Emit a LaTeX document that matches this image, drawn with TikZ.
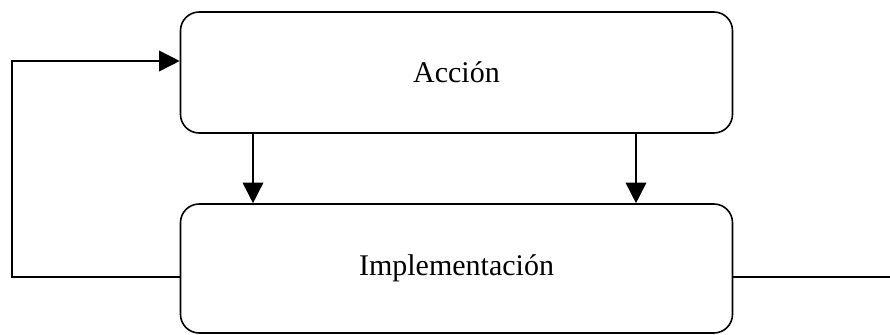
\documentclass[tikz,border=0pt]{standalone}
\usepackage{fontspec}
\setmainfont{Liberation Serif}
\usetikzlibrary{arrows.meta,calc}

\tikzset{
  stage/.style={draw,rounded corners=14pt,line width=1.2pt,minimum width=414pt,font=\fontsize{22.5}{26}\selectfont},
  flow/.style={line width=1.2pt,-{Triangle[length=15.5pt,width=15.5pt]}},
  plain/.style={line width=1.2pt}
}

\begin{document}
\begin{tikzpicture}[x=0.75pt,y=0.75pt,yscale=-1]
    \useasboundingbox (0,0) rectangle (890,335);
    %Boxes
    \node [stage,minimum height=90.75pt] (accion) at (456.5,72.5) {Acci\'on};
    \node [stage,minimum height=96.75pt] (impl) at (456.5,268.5) {Implementaci\'on};
    %Points for the connectors
    \coordinate (downa) at (253,0);
    \coordinate (downb) at (636,0);
    \coordinate (loopb) at (12,277);
    \coordinate (loopt) at (12,61);
    \coordinate (outr) at (890,277);
    %Arrows down
    \draw [flow] (accion.south -| downa) -- (impl.north -| downa);
    \draw [flow] (accion.south -| downb) -- (impl.north -| downb);
    %Feedback loop
    \draw [flow,rounded corners=0pt] (impl.west |- loopb) -- (loopb) -- (loopt) -- (accion.west |- loopt);
    %Output line
    \draw [plain] (impl.east |- outr) -- (outr);
\end{tikzpicture}
\end{document}
